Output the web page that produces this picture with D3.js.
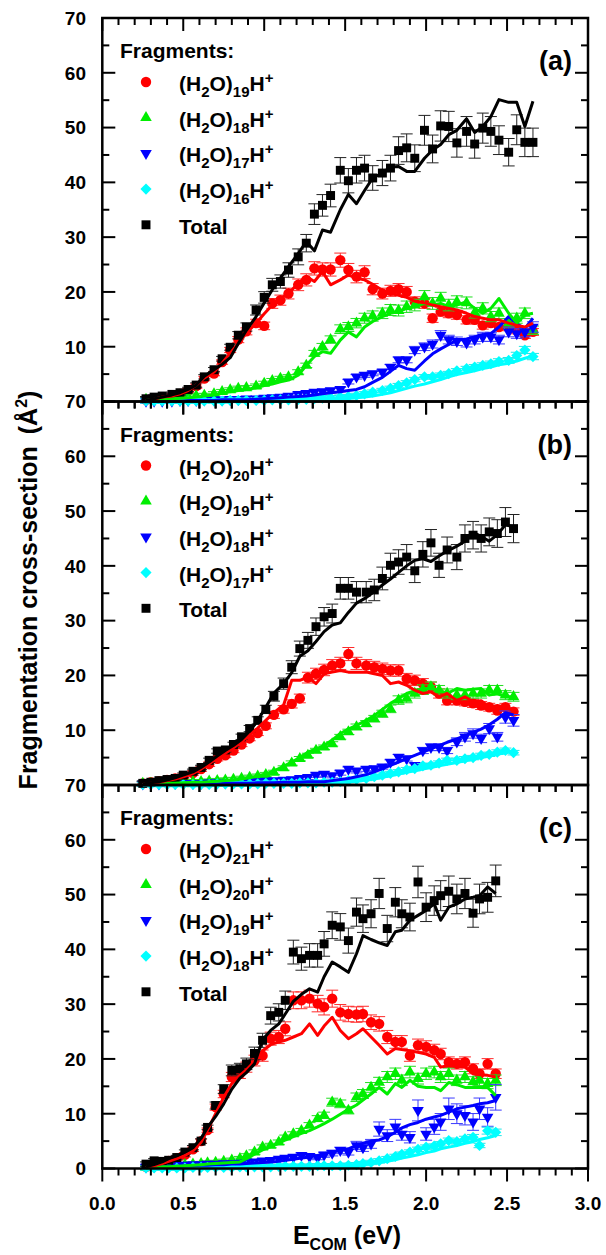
<!DOCTYPE html>
<html><head><meta charset="utf-8">
<script src="https://cdn.jsdelivr.net/npm/d3@7"></script>
<style>
body{margin:0;background:#fff}
svg{display:block}
text{font-family:Arial,"Liberation Sans",sans-serif;font-weight:bold;fill:#000}
</style>
</head><body>
<svg id="chart" width="606" height="1255"></svg>
<script>
// ---------------- DATA ----------------
const xTicks = [0.0, 0.5, 1.0, 1.5, 2.0, 2.5, 3.0];
const panelLabels = ["(a)", "(b)", "(c)"];
const fragmentSizesA = [19, 18, 17, 16];
const fragmentSizesB = [20, 19, 18, 17];
const fragmentSizesC = [21, 20, 19, 18];

// Panel (a)
const energyA = [0.27,0.32,0.37,0.43,0.48,0.53,0.58,0.63,0.69,0.74,0.79,0.84,0.89,0.95,1.00,1.05,1.10,1.15,1.21,1.26,1.31,1.36,1.41,1.47,1.52,1.57,1.62,1.67,1.73,1.78,1.83,1.88,1.93,1.99,2.04,2.09,2.14,2.19,2.25,2.30,2.35,2.40,2.45,2.51,2.56,2.61,2.66];
const totalA = [0.5,0.8,1.0,1.3,1.6,2.2,3.0,4.5,5.8,7.8, 9.9,12.1,13.6,16.7,19.0,21.3,21.9,24.0,26.4,28.9, 34.2,35.8,37.6,42.2,40.3,42.2,42.6,40.8,41.7,42.6, 45.8,46.3,44.4,49.5,46.1,50.3,50.2,47.2,49.3,47.0, 49.9,49.3,47.7,45.5,49.6,47.3,47.3];
const totalSimA = [0.2,0.5,0.8,1.2,1.6,2.2,3.0,4.6,5.8,6.8, 8.0,10.6,13.0,15.5,18.0,20.4,22.5,24.6,27.0,29.2, 27.5,31.3,30.9,35.0,37.8,36.1,38.5,40.8,41.7,42.8, 42.9,42.0,42.0,44.4,45.9,46.9,48.7,49.5,51.6,49.1, 50.2,52.0,55.1,54.6,54.6,50.2,54.8];
const redA = [0.3,0.5,0.8,1.0,1.4,2.0,2.8,4.2,5.1,7.2, 9.4,11.3,12.8,14.3,13.8,17.9,18.5,19.7,21.3,22.2, 24.3,24.1,24.1,25.8,24.0,22.8,23.6,20.5,19.7,20.2, 20.5,20.0,18.2,17.9,15.2,16.4,16.1,15.8,14.9,14.9, 13.9,14.3,13.6,13.9,13.0,12.1,12.7];
const redSimA = [0.1,0.4,0.8,1.0,1.4,2.0,3.0,4.3,5.4,7.0, 8.8,10.6,12.5,14.3,16.0,17.6,18.8,19.7,21.6,22.8, 21.9,23.7,21.3,22.2,23.1,22.5,22.2,21.4,20.3,19.7, 19.4,19.0,18.3,18.0,17.6,17.3,17.0,16.7,16.1,15.5, 15.2,14.9,14.9,14.3,13.9,13.6,14.3];
const greenA = [0.4,0.3,0.5,0.6,0.7,0.8,1.0,1.1,1.4,1.8, 2.1,2.4,2.5,2.8,3.3,3.8,4.2,4.5,5.4,6.6, 8.8,10.0,11.3,13.2,13.6,14.3,15.2,15.6,16.1,16.7, 16.6,17.3,17.6,19.1,17.9,18.8,17.6,18.2,18.0,16.2, 17.0,15.5,16.1,14.3,15.2,16.1,13.0];
const greenSimA = [0.2,0.3,0.4,0.5,0.6,0.7,0.8,1.0,1.2,1.5, 1.8,2.0,2.2,2.5,2.9,3.2,3.6,3.9,4.8,6.6, 8.2,9.1,8.8,11.2,12.7,11.8,13.6,14.6,15.5,16.1, 16.4,17.0,17.3,17.9,17.6,17.9,17.3,17.6,18.2,17.0, 16.1,17.0,18.8,16.1,14.3,15.8,16.1];
const blueA = [0.1,0.1,0.1,0.1,0.2,0.2,0.2,0.3,0.3,0.3, 0.4,0.4,0.5,0.5,0.6,0.7,0.8,1.0,1.3,1.5, 1.7,1.8,2.0,2.2,3.6,4.5,4.8,5.1,5.4,6.3, 7.6,7.6,9.4,10.0,10.5,12.1,11.3,11.0,10.7,11.3, 11.8,11.8,11.3,12.7,12.4,12.7,13.6];
const blueSimA = [0.1,0.1,0.1,0.1,0.1,0.2,0.2,0.2,0.2,0.3, 0.3,0.3,0.3,0.4,0.5,0.6,0.7,0.8,0.9,1.0, 1.2,1.4,1.6,1.8,2.0,2.2,2.7,3.5,4.4,5.5, 6.6,6.0,5.7,7.4,8.7,9.6,10.4,11.2,11.4,11.8, 12.2,12.4,13.6,15.5,14.2,13.3,15.2];
const cyanA = [0.1,0.1,0.1,0.1,0.1,0.1,0.1,0.1,0.1,0.1, 0.2,0.2,0.2,0.2,0.2,0.3,0.3,0.3,0.4,0.4, 0.5,0.6,0.7,0.8,0.9,1.1,1.4,1.7,2.0,2.4, 2.9,3.4,4.0,4.5,4.5,4.8,5.1,5.6,6.0,6.3, 6.6,6.9,7.3,7.5,8.4,9.4,8.2];
const cyanSimA = [0.0,0.0,0.0,0.1,0.1,0.1,0.1,0.1,0.1,0.1, 0.1,0.1,0.1,0.2,0.2,0.2,0.2,0.2,0.3,0.3, 0.3,0.4,0.4,0.5,0.6,0.7,0.8,1.0,1.3,1.6, 2.0,2.4,2.8,3.2,3.6,4.0,4.5,4.9,5.3,5.6, 6.0,6.3,6.7,7.0,7.4,7.9,8.3];

// Panel (b)
const energyB = [0.25,0.30,0.35,0.40,0.45,0.50,0.56,0.61,0.66,0.71,0.76,0.81,0.86,0.91,0.96,1.01,1.06,1.12,1.17,1.22,1.27,1.32,1.37,1.42,1.47,1.52,1.57,1.63,1.68,1.73,1.78,1.83,1.88,1.93,1.98,2.03,2.08,2.13,2.19,2.24,2.29,2.34,2.39,2.44,2.49,2.54];
const totalB = [0.3,0.5,0.8,1.0,1.2,1.8,2.5,3.2,4.5,6.2, 6.4,7.4,8.8,10.3,11.8,13.8,16.2,18.5,21.5,24.9, 26.4,28.9,30.7,31.3,35.9,35.9,35.2,35.2,35.6,37.7, 40.1,40.7,41.6,39.1,42.1,44.2,40.1,42.9,41.6,45.0, 45.6,45.0,46.2,45.9,48.0,46.8];
const totalSimB = [0.2,0.4,0.6,0.9,1.3,1.8,2.4,3.2,4.2,5.3, 6.3,7.2,8.3,9.8,11.8,14.2,16.8,18.5,20.5,23.5, 24.5,26.2,28.0,29.2,29.6,31.5,33.2,34.2,35.3,36.5, 37.6,38.8,40.0,41.0,41.3,40.8,41.8,42.7,43.6,44.5, 46.1,45.4,44.5,45.7,47.5,47.1];
const redB = [0.3,0.5,0.7,0.9,1.2,1.6,2.2,2.9,3.8,4.8, 5.4,6.3,7.4,8.5,9.5,10.8,12.8,13.8,14.8,15.8, 19.6,20.3,21.0,21.8,22.2,23.9,22.2,21.8,21.5,21.2, 20.9,20.9,19.4,19.1,18.5,17.9,16.7,15.4,15.4,15.2, 14.9,14.5,14.2,13.6,14.2,13.4];
const redSimB = [0.1,0.3,0.5,0.8,1.1,1.5,2.1,2.9,3.9,4.9, 5.8,6.8,7.9,9.1,10.4,11.8,13.2,14.6,19.1,19.1, 19.7,18.5,20.3,20.6,20.9,20.6,20.6,20.6,20.3,20.0, 18.5,18.8,18.2,17.3,16.7,17.0,16.1,16.7,15.4,16.1, 15.2,15.4,14.2,14.5,14.2,13.6];
const greenB = [0.3,0.3,0.4,0.4,0.5,0.5,0.6,0.6,0.7,0.8, 0.9,1.0,1.2,1.4,1.6,1.9,2.3,3.1,4.0,4.8, 5.4,6.3,6.9,7.5,8.8,9.7,10.6,11.2,12.1,13.0, 13.9,15.5,15.8,16.7,17.4,17.9,17.3,16.7,16.4,16.4, 16.7,16.7,17.3,17.3,16.4,16.1];
const greenSimB = [0.1,0.2,0.2,0.3,0.3,0.4,0.5,0.5,0.6,0.7, 0.8,0.9,1.1,1.3,1.6,2.0,2.6,3.4,4.2,5.0, 6.0,6.6,7.2,8.2,9.4,10.2,10.9,11.8,12.7,13.8, 14.9,15.8,16.7,17.2,17.6,17.6,17.3,16.7,17.6,17.3, 17.5,17.6,16.4,16.7,16.1,16.1];
const blueB = [0.2,0.2,0.2,0.2,0.3,0.3,0.3,0.3,0.4,0.4, 0.4,0.5,0.5,0.6,0.6,0.7,0.8,0.9,1.0,1.2, 1.4,1.8,2.0,1.7,2.2,2.9,2.6,2.9,3.0,3.3, 4.2,5.1,4.8,3.6,6.3,6.9,6.9,6.3,7.9,8.8, 9.4,8.5,10.3,8.8,12.4,11.8];
const blueSimB = [0.1,0.1,0.1,0.1,0.1,0.2,0.2,0.2,0.2,0.2, 0.3,0.3,0.3,0.3,0.4,0.4,0.4,0.5,0.5,0.5, 0.6,0.6,0.6,0.8,1.0,1.2,1.5,1.9,2.4,3.0, 3.6,4.2,4.8,5.4,6.0,6.6,7.2,7.8,8.4,9.0, 9.6,10.2,11.0,12.0,13.2,12.8];
const cyanB = [0.1,0.1,0.1,0.1,0.1,0.1,0.1,0.1,0.1,0.2, 0.2,0.2,0.2,0.2,0.2,0.3,0.3,0.3,0.3,0.4, 0.4,0.4,0.5,0.5,0.6,0.8,1.0,1.2,1.5,1.8, 2.1,2.4,2.8,3.0,3.5,3.6,4.0,4.5,4.5,4.8, 5.0,5.4,5.6,6.0,6.3,5.9];
const cyanSimB = [0.0,0.0,0.0,0.0,0.1,0.1,0.1,0.1,0.1,0.1, 0.1,0.1,0.1,0.2,0.2,0.2,0.2,0.2,0.2,0.3, 0.3,0.3,0.3,0.4,0.5,0.6,0.7,0.9,1.1,1.4, 1.7,2.0,2.3,2.6,2.9,3.2,3.5,3.8,4.1,4.4, 4.7,5.0,5.3,5.6,5.9,6.2];

// Panel (c)
const energyC = [0.27,0.32,0.37,0.41,0.46,0.51,0.56,0.61,0.65,0.70,0.75,0.80,0.85,0.89,0.94,0.99,1.04,1.09,1.13,1.18,1.23,1.28,1.33,1.37,1.42,1.47,1.52,1.57,1.61,1.66,1.71,1.76,1.81,1.85,1.90,1.95,2.00,2.05,2.09,2.14,2.19,2.24,2.29,2.33,2.38,2.43];
const totalC = [0.8,1.4,1.3,1.5,2.0,3.0,3.8,5.0,7.5,11.5, 14.5,17.9,18.2,19.1,21.0,23.4,27.9,28.5,30.7,39.5, 38.3,38.9,38.9,41.0,44.4,44.1,41.6,46.8,45.6,46.5, 50.2,43.8,48.6,46.5,45.9,52.3,47.7,48.9,49.8,50.6, 49.2,50.2,46.6,49.2,49.5,52.5];
const totalSimC = [0.3,0.7,1.2,1.8,2.3,3.0,3.8,5.5,7.5,9.5, 11.8,14.5,16.5,17.5,19.1,23.5,25.2,26.4,28.2,30.5, 31.8,32.8,32.2,35.0,37.7,36.8,35.8,39.2,42.5,41.8, 41.2,40.7,43.2,43.5,45.3,46.2,47.1,48.3,45.3,47.7, 48.3,49.2,49.5,49.8,51.4,50.2];
const redC = [0.3,0.6,1.0,1.4,1.9,2.5,3.5,5.0,7.0,11.2, 13.6,16.7,17.3,18.5,19.7,20.6,23.7,24.0,25.5,30.7, 30.7,31.0,30.1,29.5,31.0,28.5,28.2,28.1,28.2,26.7, 26.4,24.0,23.1,23.1,20.6,22.5,22.2,21.6,20.9,19.4, 19.1,19.4,18.2,17.3,19.1,17.3];
const redSimC = [0.2,0.5,0.9,1.3,1.8,2.4,3.2,4.8,7.0,10.0, 13.0,15.5,17.0,18.0,19.5,21.5,22.6,23.1,23.4,24.0, 24.6,26.4,24.3,26.0,27.6,25.2,23.7,24.6,25.5,24.0, 22.5,20.9,21.9,21.7,21.5,21.2,20.9,20.3,18.5,18.8, 18.6,18.5,17.3,17.1,17.0,16.7];
const greenC = [0.2,0.3,0.4,0.5,0.6,0.7,0.8,0.9,1.0,1.1, 1.3,1.5,1.8,2.3,3.0,3.9,4.2,4.8,5.7,6.3, 6.9,7.9,9.1,9.7,12.1,11.8,10.6,13.0,13.6,14.8, 15.7,16.7,17.3,16.1,17.6,16.4,17.3,17.6,16.7,17.3, 16.1,16.7,15.8,16.1,15.5,16.1];
const greenSimC = [0.1,0.2,0.3,0.3,0.4,0.5,0.6,0.7,0.8,0.9, 1.0,1.1,1.2,1.8,2.6,3.4,4.0,4.6,5.2,5.8, 6.4,6.9,7.6,8.2,9.0,9.9,10.8,11.6,12.5,13.6, 14.8,13.6,15.5,14.8,16.1,15.0,14.8,14.8,14.2,15.7, 15.3,14.8,14.8,14.8,14.8,13.3];
const blueC = [0.3,0.4,0.5,0.5,0.6,0.6,0.7,0.7,0.8,0.8, 0.9,0.9,1.0,1.1,1.2,1.4,1.5,1.7,1.9,2.1, 2.4,2.2,2.0,2.5,2.8,3.3,3.0,4.2,3.8,4.5, 7.2,6.0,7.6,6.3,5.7,10.6,6.3,7.6,8.5,10.9, 10.0,9.7,8.5,10.9,9.4,13.0];
const blueSimC = [0.2,0.3,0.3,0.4,0.4,0.5,0.5,0.6,0.6,0.7, 0.7,0.8,0.8,0.9,1.0,1.1,1.2,1.3,1.5,1.7, 1.9,2.1,2.4,2.7,3.0,3.3,3.6,4.2,4.6,5.0, 5.2,5.8,6.6,7.4,8.0,8.4,9.0,9.4,9.7,10.3, 10.9,11.2,11.5,11.8,12.0,12.4];
const cyanC = [0.1,0.1,0.1,0.1,0.1,0.1,0.2,0.2,0.2,0.2, 0.2,0.2,0.3,0.3,0.3,0.3,0.3,0.4,0.4,0.4, 0.4,0.4,0.5,0.5,0.5,0.5,0.6,0.7,0.9,1.1, 1.4,1.8,2.2,2.6,3.0,3.5,3.9,4.1,4.5,5.1, 4.9,5.4,5.7,4.2,6.9,6.6];
const cyanSimC = [0.0,0.0,0.0,0.1,0.1,0.1,0.1,0.1,0.1,0.1, 0.1,0.1,0.1,0.2,0.2,0.2,0.2,0.2,0.2,0.2, 0.2,0.3,0.3,0.3,0.3,0.4,0.4,0.5,0.7,0.9, 1.1,1.3,1.6,1.9,2.2,2.5,2.9,3.2,3.6,3.9, 4.2,4.6,4.9,5.3,5.6,6.0];

// relative error-bar sizes per series [fragment1..4, total]
const errFracA = [0.05, 0.06, 0.07, 0.07, 0.055];
const errFracB = [0.05, 0.05, 0.09, 0.07, 0.055];
const errFracC = [0.05, 0.06, 0.18, 0.09, 0.055];

// ---------------- DRAWING ----------------
const LEFT = 102.3, RIGHT = 588, TOP = 18, PH = 383.5;
const svg = d3.select("#chart");
const x = d3.scaleLinear().domain([0, 3]).range([LEFT, RIGHT]);

const colors = ["#ff0000", "#00ee00", "#0000ff", "#00ffff", "#000000"];
const barColors = ["#ff2a2a", "#22dd22", "#3a3aff", "#22e6e6", "#222222"];
const symCircle = d3.symbol().type(d3.symbolCircle).size(85)();
const symTri = d3.symbol().type(d3.symbolTriangle).size(58)();
const symSquare = d3.symbol().type(d3.symbolSquare).size(80)();
const symDiamond = d3.symbol().type(d3.symbolSquare).size(62)();
const shapes = [
  {d: symCircle, rot: 0},
  {d: symTri, rot: 0},
  {d: symTri, rot: 180},
  {d: symDiamond, rot: 45},
  {d: symSquare, rot: 0}
];

const panels = [
  {E: energyA, frag: [redA, greenA, blueA, cyanA, totalA], sim: [redSimA, greenSimA, blueSimA, cyanSimA, totalSimA], sizes: fragmentSizesA, err: errFracA, zero: false},
  {E: energyB, frag: [redB, greenB, blueB, cyanB, totalB], sim: [redSimB, greenSimB, blueSimB, cyanSimB, totalSimB], sizes: fragmentSizesB, err: errFracB, zero: false},
  {E: energyC, frag: [redC, greenC, blueC, cyanC, totalC], sim: [redSimC, greenSimC, blueSimC, cyanSimC, totalSimC], sizes: fragmentSizesC, err: errFracC, zero: true}
];

function formula(t, n) {
  t.append("tspan").text("(H");
  t.append("tspan").attr("font-size", 15).attr("dy", 6).text("2");
  t.append("tspan").attr("dy", -6).text("O)");
  t.append("tspan").attr("font-size", 15).attr("dy", 6).text(n);
  t.append("tspan").attr("dy", -6).text("H");
  t.append("tspan").attr("font-size", 15).attr("dy", -8).text("+");
}

panels.forEach((p, k) => {
  const T = TOP + PH * k, B = T + PH;
  const y = d3.scaleLinear().domain([0, 70]).range([B, T]);
  const g = svg.append("g");

  // data points with error bars
  [0, 1, 2, 3, 4].forEach(si => {
    const vals = p.frag[si];
    const pts = p.E.map((e, i) => ({e, v: vals[i], er: Math.max(0.4, vals[i] * p.err[si])}));
    const eg = g.append("g").attr("stroke", barColors[si]).attr("stroke-width", 1).attr("fill", "none");
    pts.forEach(d => {
      const cx = x(d.e), y1 = y(d.v - d.er), y2 = y(d.v + d.er);
      eg.append("line").attr("x1", cx).attr("x2", cx).attr("y1", y1).attr("y2", y2);
      eg.append("line").attr("x1", cx - 6).attr("x2", cx + 6).attr("y1", y1).attr("y2", y1);
      eg.append("line").attr("x1", cx - 6).attr("x2", cx + 6).attr("y1", y2).attr("y2", y2);
    });
    g.append("g").selectAll("path").data(pts).join("path")
      .attr("d", shapes[si].d)
      .attr("transform", d => `translate(${x(d.e)},${y(d.v)}) rotate(${shapes[si].rot})`)
      .attr("fill", colors[si]);
  });

  // simulation lines
  [3, 2, 1, 0, 4].forEach(si => {
    const line = d3.line().x((d, i) => x(p.E[i])).y(d => y(d));
    g.append("path").datum(p.sim[si]).attr("d", line)
      .attr("fill", "none").attr("stroke", colors[si]).attr("stroke-width", 3)
      .attr("stroke-linejoin", "round");
  });

  // frame
  g.append("rect").attr("x", LEFT).attr("y", T).attr("width", RIGHT - LEFT).attr("height", PH)
    .attr("fill", "none").attr("stroke", "#000").attr("stroke-width", 2.5);

  // ticks
  const tg = g.append("g").attr("stroke", "#000").attr("stroke-width", 2);
  d3.range(0, 31).map(i => i / 10).forEach(v => {
    const major = Math.abs(v * 2 - Math.round(v * 2)) < 1e-6;
    const len = major ? 13 : 7;
    tg.append("line").attr("x1", x(v)).attr("x2", x(v)).attr("y1", T).attr("y2", T + len);
    tg.append("line").attr("x1", x(v)).attr("x2", x(v)).attr("y1", B).attr("y2", B + len);
  });
  d3.range(0, 71, 5).forEach(v => {
    const len = v % 10 === 0 ? 13 : 7;
    tg.append("line").attr("x1", LEFT).attr("x2", LEFT + len).attr("y1", y(v)).attr("y2", y(v));
    tg.append("line").attr("x1", RIGHT).attr("x2", RIGHT - len).attr("y1", y(v)).attr("y2", y(v));
  });

  // y tick labels
  const yLabels = d3.range(p.zero ? 0 : 10, 71, 10);
  g.append("g").selectAll("text").data(yLabels).join("text")
    .attr("x", 86).attr("y", v => y(v)).attr("dy", "0.36em")
    .attr("text-anchor", "end").attr("font-size", 19).text(v => v);

  // panel label
  g.append("text").attr("x", 572).attr("y", T + 52).attr("text-anchor", "end")
    .attr("font-size", 27).text(panelLabels[k]);

  // legend
  const lg = g.append("g");
  lg.append("text").attr("x", 120).attr("y", T + 40).attr("font-size", 21).text("Fragments:");
  for (let i = 0; i < 5; i++) {
    const cy = T + 64 + 35.7 * i;
    lg.append("path").attr("d", shapes[i].d)
      .attr("transform", `translate(146,${cy}) rotate(${shapes[i].rot})`)
      .attr("fill", colors[i]);
    const t = lg.append("text").attr("x", 179).attr("y", cy + 9).attr("font-size", 21);
    if (i < 4) formula(t, p.sizes[i]); else t.text("Total");
  }
});

// x tick labels (bottom panel)
svg.append("g").selectAll("text").data(xTicks).join("text")
  .attr("x", d => x(d)).attr("y", 1210).attr("text-anchor", "middle")
  .attr("font-size", 19).text(d => d.toFixed(1));

// x title
const xt = svg.append("text").attr("x", 347).attr("y", 1244).attr("text-anchor", "middle").attr("font-size", 25);
xt.append("tspan").text("E");
xt.append("tspan").attr("font-size", 16).attr("dy", 6).text("COM");
xt.append("tspan").attr("dy", -6).text(" (eV)");

// y title
const yt = svg.append("text").attr("transform", "translate(37,590) rotate(-90)")
  .attr("text-anchor", "middle").attr("font-size", 25);
yt.append("tspan").text("Fragmentation cross-section");
yt.append("tspan").attr("dx", 12).text("(Å");
yt.append("tspan").attr("font-size", 16).attr("dy", -10).text("2");
yt.append("tspan").attr("dy", 10).text(")");
</script>
</body></html>
